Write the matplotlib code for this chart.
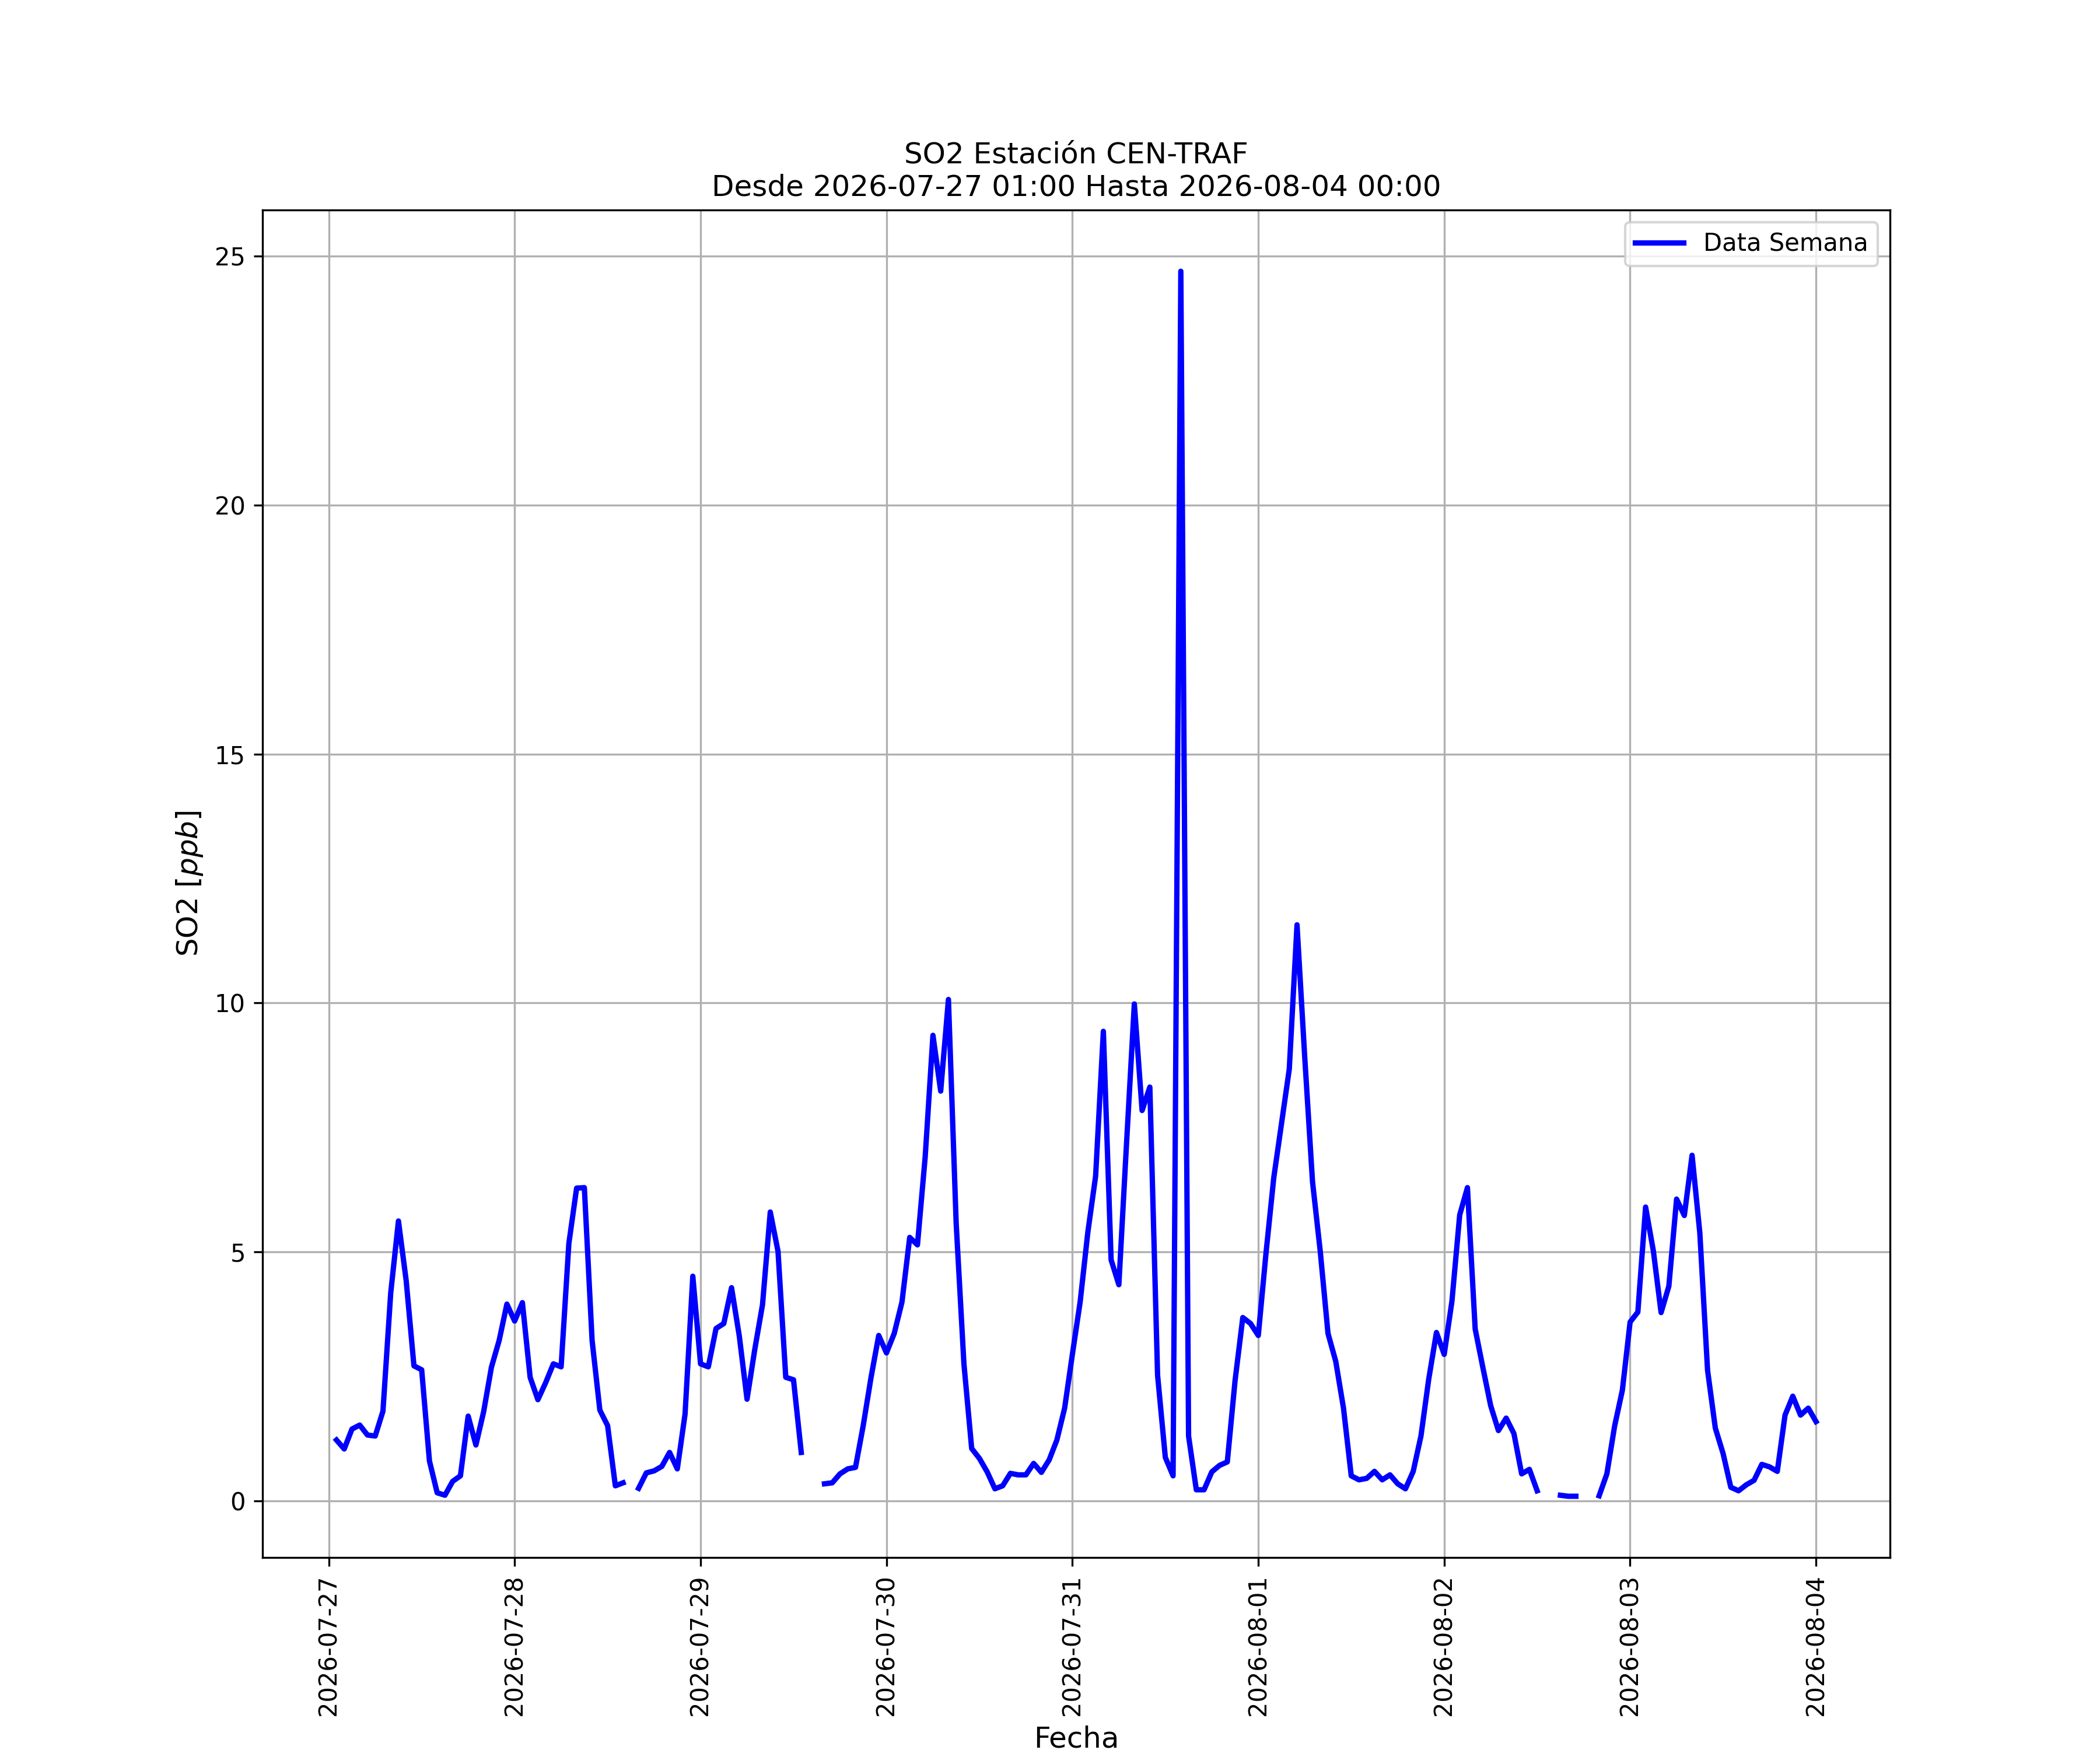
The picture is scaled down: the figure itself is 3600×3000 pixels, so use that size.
import numpy as np
import pandas as pd
import matplotlib
matplotlib.use('Agg')
import matplotlib.pyplot as plt
import matplotlib.dates as mdates

nan = np.nan

# hourly SO2 values [ppb], one list per day (01:00 ... 24:00)
day_0727 = [1.22, 1.04, 1.44, 1.52, 1.32, 1.30, 1.80, 4.17, 5.62, 4.42, 2.71, 2.63,
            0.80, 0.16, 0.11, 0.39, 0.50, 1.70, 1.12, 1.79, 2.68, 3.22, 3.95, 3.61]
day_0728 = [3.98, 2.48, 2.03, 2.37, 2.75, 2.69, 5.17, 6.28, 6.29, 3.22, 1.82, 1.51,
            0.30, 0.36, nan, 0.25, 0.56, 0.60, 0.69, 0.97, 0.64, 1.74, 4.51, 2.75]
day_0729 = [2.69, 3.46, 3.56, 4.28, 3.31, 2.04, 3.04, 3.94, 5.80, 5.01, 2.48, 2.43,
            0.97, nan, nan, 0.34, 0.36, 0.54, 0.64, 0.67, 1.51, 2.47, 3.32, 2.97]
day_0730 = [3.36, 3.99, 5.29, 5.14, 6.91, 9.35, 8.23, 10.07, 5.57, 2.75, 1.05, 0.85,
            0.58, 0.24, 0.30, 0.55, 0.52, 0.52, 0.75, 0.57, 0.82, 1.22, 1.86, 2.94]
day_0731 = [3.99, 5.40, 6.52, 9.43, 4.84, 4.34, 7.20, 9.98, 7.84, 8.31, 2.52, 0.87,
            0.50, 24.70, 1.30, 0.22, 0.22, 0.58, 0.71, 0.78, 2.41, 3.68, 3.56, 3.32]
day_0801 = [4.98, 6.49, 7.58, 8.67, 11.57, 8.90, 6.41, 5.01, 3.36, 2.80, 1.86, 0.50,
            0.42, 0.45, 0.59, 0.42, 0.52, 0.34, 0.24, 0.59, 1.30, 2.44, 3.38, 2.94]
day_0802 = [4.01, 5.74, 6.29, 3.45, 2.67, 1.91, 1.41, 1.66, 1.35, 0.54, 0.63, 0.20,
            nan, nan, 0.11, 0.09, 0.09, nan, nan, 0.10, 0.54, 1.50, 2.22, 3.59]
day_0803 = [3.79, 5.90, 5.02, 3.78, 4.31, 6.06, 5.73, 6.94, 5.38, 2.62, 1.46, 0.95,
            0.27, 0.20, 0.32, 0.41, 0.73, 0.68, 0.59, 1.72, 2.10, 1.72, 1.86, 1.59]

so2 = (day_0727 + day_0728 + day_0729 + day_0730 +
       day_0731 + day_0801 + day_0802 + day_0803)
fechas = pd.date_range('2026-07-27 01:00', periods=len(so2), freq='h')

estacion = 'CEN-TRAF'
desde = '2026-07-27 01:00'
hasta = '2026-08-04 00:00'

fig, ax = plt.subplots(figsize=(12, 10), dpi=300)
ax.plot(fechas, so2, color='blue', linewidth=2.2, label='Data Semana')

ax.xaxis.set_major_locator(mdates.DayLocator())
ax.xaxis.set_major_formatter(mdates.DateFormatter('%Y-%m-%d'))
plt.setp(ax.get_xticklabels(), rotation=90)

ax.set_xlabel('Fecha', fontsize=12)
ax.set_ylabel('SO2 [$ppb$]', fontsize=12)
ax.set_title(f'SO2 Estación {estacion}\nDesde {desde} Hasta {hasta}', fontsize=12)
ax.grid(True)
ax.legend(loc='upper right')

fig.savefig('out.png', dpi=300)
